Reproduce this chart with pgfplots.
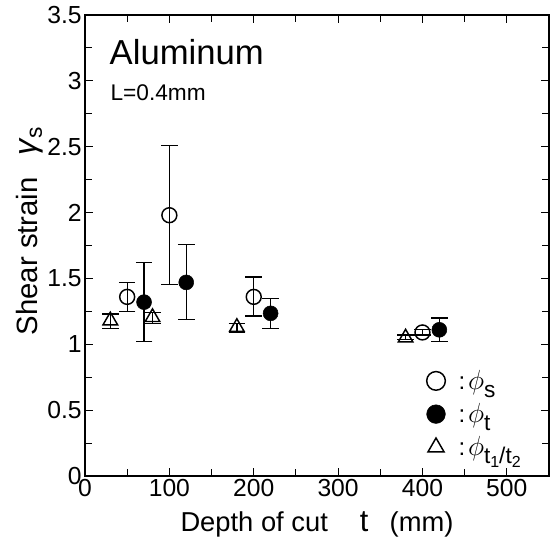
\documentclass[border=0pt]{standalone}
\usepackage{pgfplots}
\pgfplotsset{compat=1.18}
\usepackage{fontspec}
\setmainfont{Liberation Sans}
\newcommand{\lgent}[1]{\hspace{8pt}{\fontsize{18}{20}\selectfont:}\hspace{2pt}$\phi$\raisebox{-6pt}{\fontsize{17}{17}\selectfont #1}}
\newcommand{\sub}[1]{\raisebox{-3pt}{\fontsize{12}{12}\selectfont #1}}

\begin{document}
\begin{tikzpicture}
\begin{axis}[
  width=348pt, height=345.75pt, scale only axis,
  xmin=0, xmax=550, ymin=0, ymax=3.5,
  xtick={0,100,...,500}, minor x tick num=1,
  ytick={0,0.5,...,3.5}, minor y tick num=1,
  tick align=inside,
  major tick length=6pt, minor tick length=5pt,
  every tick/.style={black, line width=0.8pt},
  axis line style={black, line width=1pt},
  clip=false,
  /pgf/number format/assume math mode=true,
  tick label style={font=\fontsize{18.5}{20}\selectfont},
  xticklabel style={yshift=1pt},
  yticklabel style={xshift=1pt},
  every axis x label/.style={at={(axis description cs:0.5,-0.106)}, anchor=center,
    font=\fontsize{20.5}{22}\selectfont},
  every axis y label/.style={at={(axis description cs:-0.1185,0.531)}, anchor=center,
    rotate=90, font=\fontsize{22}{24}\selectfont},
  xlabel={Depth of cut\hspace{24pt}{\fontsize{23}{23}\selectfont t}\hspace{16pt}(mm)},
  ylabel={Shear strain\hspace{16pt}\raisebox{1pt}{\fontsize{24}{24}\selectfont\textit{γ}}\raisebox{-3pt}{\fontsize{17}{17}\selectfont s}},
  legend style={at={(1.0,0.03)}, anchor=south east, xshift=-18pt, draw=none, fill=none,
    font=\fontsize{22}{24}\selectfont, row sep=5pt, inner sep=1pt},
  legend cell align=left,
  every legend image post/.style={mark size=7pt},
  error bars/error bar style={black, line width=1pt},
  error bars/error mark options={black, line width=1pt, mark size=6.2pt, rotate=90},
]
% phi_s : open circles
\addplot[only marks, mark=o, mark size=5.6pt,
  mark options={fill=white, draw=black, line width=1.1pt},
  error bars/.cd, y dir=both, y explicit] coordinates {
  (50,1.36)  += (0,0.11) -= (0,0.11)
  (100,1.98) += (0,0.53) -= (0,0.525)
  (200,1.36) += (0,0.15) -= (0,0.145)
  (400,1.09) += (0,0.02) -= (0,0.02)};
\addlegendentry{\lgent{s}}
% phi_t : filled circles
\addplot[only marks, mark=*, mark size=5.6pt,
  mark options={fill=black, draw=black},
  error bars/.cd, y dir=both, y explicit] coordinates {
  (70,1.32)  += (0,0.30) -= (0,0.30)
  (120,1.47) += (0,0.29) -= (0,0.28)
  (220,1.235) += (0,0.115) -= (0,0.115)
  (420,1.11) += (0,0.09) -= (0,0.09)};
\addlegendentry{\lgent{t}}
% phi_t1/t2 : open triangles
\addplot[only marks, mark=triangle, mark size=6.3pt,
  mark options={fill=white, draw=black, line width=1.1pt},
  error bars/.cd, y dir=both, y explicit] coordinates {
  (30,1.18)  += (0,0.05) -= (0,0.06)
  (80,1.205) += (0,0.035) -= (0,0.045)
  (180,1.13) += (0,0.03) -= (0,0.04)
  (380,1.05) += (0,0.02) -= (0,0.015)};
\addlegendentry{\lgent{t\sub{1}/t\sub{2}}}
\node[anchor=west, inner sep=0pt, font=\fontsize{26}{28}\selectfont] at (axis cs:29,3.22) {Aluminum};
\node[anchor=west, inner sep=0pt, font=\fontsize{17}{19}\selectfont] at (axis cs:30,2.91) {L=0.4mm};
\end{axis}
\pgfresetboundingbox
\path ([shift={(-63.75pt,-48pt)}]current axis.south west)
  rectangle ([shift={(1.5pt,11.25pt)}]current axis.north east);
\end{tikzpicture}
\end{document}
